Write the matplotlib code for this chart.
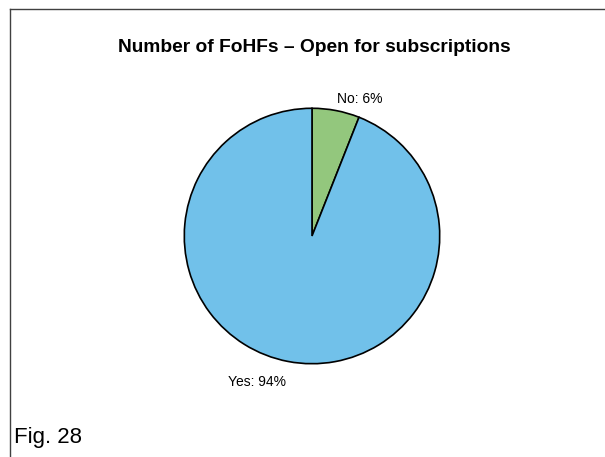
import matplotlib.pyplot as plt
from matplotlib.lines import Line2D

plt.rcParams['font.family'] = ['Liberation Sans', 'DejaVu Sans']

# ── Data ───────────────────────────────────────────────
labels = ["No", "Yes"]
shares = [6, 94]
colors = ["#93C77D", "#71C1EA"]

fig = plt.figure(figsize=(6.05, 4.57), dpi=100)

# ── Frame (left and top edges only) ────────────────────
fig.add_artist(Line2D([10 / 605, 10 / 605], [0, 1 - 9 / 457], color="#404040", lw=1.0))
fig.add_artist(Line2D([10 / 605, 1], [1 - 9 / 457, 1 - 9 / 457], color="#404040", lw=1.0))

# ── Pie ────────────────────────────────────────────────
ax = fig.add_axes([183 / 605, 92 / 457, 258 / 605, 258 / 457])
ax.pie(shares, colors=colors, startangle=90, counterclock=False,
       wedgeprops=dict(edgecolor="black", linewidth=1.2))
ax.set_xlim(-1.01, 1.01)
ax.set_ylim(-1.01, 1.01)
ax.set_aspect("equal")
ax.axis("off")

# slice labels
ax.text(0.37, 1.07, f"{labels[0]}: {shares[0]}%", ha="center", va="center", fontsize=10,
        clip_on=False)
ax.text(-0.43, -1.14, f"{labels[1]}: {shares[1]}%", ha="center", va="center", fontsize=10,
        clip_on=False)

fig.text(314 / 605, 1 - 47 / 457, "Number of FoHFs \u2013 Open for subscriptions",
         ha="center", va="center", fontsize=13.8, fontweight="bold")
fig.text(14 / 605, 1 - 438 / 457, "Fig. 28", ha="left", va="center", fontsize=16)

plt.savefig("out.png", dpi=100)
